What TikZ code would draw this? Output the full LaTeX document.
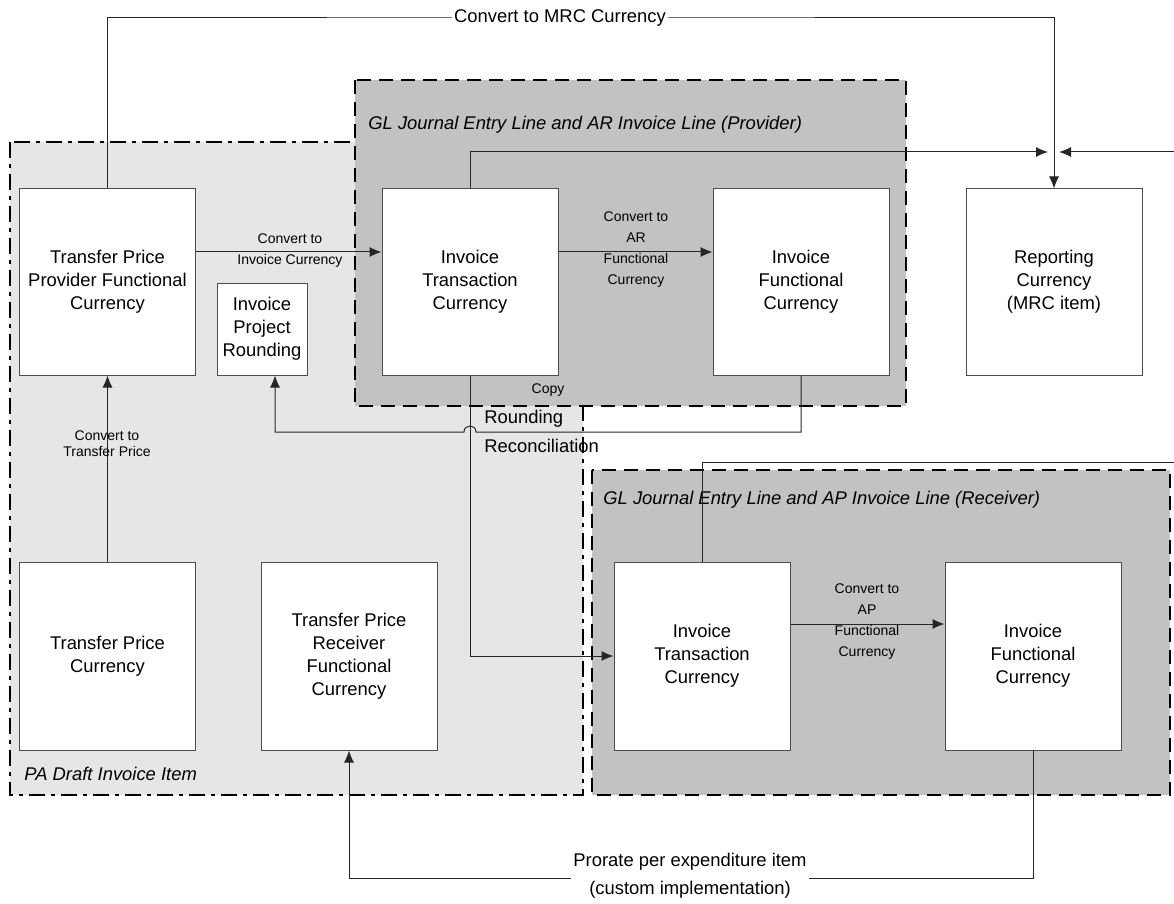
\documentclass[tikz,border=0pt]{standalone}
\usepackage{fontspec}
\setmainfont{Liberation Sans}
\usetikzlibrary{arrows.meta}
\definecolor{pagray}{RGB}{230,230,230}
\definecolor{glgray}{RGB}{194,194,194}

\begin{document}
\begin{tikzpicture}[x=0.5pt, y=-0.5pt,
    box/.style ={rectangle, draw=black!70, fill=white, line width=0.5pt, inner sep=0pt, align=center,
      minimum width=88pt, minimum height=93pt, font=\fontsize{9.2}{11.5}\selectfont},
    smalltext/.style ={inner sep=1pt, align=center, font=\fontsize{7}{10.5}\selectfont},
    bigtext/.style ={inner sep=1pt, align=center, font=\fontsize{9.2}{14}\selectfont},
    areatitle/.style ={anchor=west, inner sep=0pt, font=\fontsize{9.2}{11}\selectfont\itshape},
    connector/.style ={draw=black!85, line width=0.5pt},
    arrow/.style ={connector, -{Latex[length=6pt,width=5pt]}}]
   \useasboundingbox (0,0) rectangle (1174,904);

   \draw[fill=pagray, line width=1pt, dash pattern=on 8pt off 3pt on 2pt off 3pt] (10,142) rectangle (583,795);
   \draw[fill=glgray, line width=1pt, dash pattern=on 7pt off 4pt] (355,80) rectangle (906,406);
   \draw[fill=glgray, line width=1pt, dash pattern=on 7pt off 4pt] (592,470) rectangle (1170,795);

   \node[areatitle] (PA)  at (24,774)  {PA Draft Invoice Item};
   \node[areatitle] (GP)  at (368,125)  {GL Journal Entry Line and AR Invoice Line (Provider)};
   \node[areatitle] (GR)  at (603,500)  {GL Journal Entry Line and AP Invoice Line (Receiver)};

   \node[box] (A)  at (107.5,282)  {Transfer Price\\Provider Functional\\Currency};
   \node[box, minimum width=45pt, minimum height=46pt] (B)  at (262,329)  {Invoice\\Project\\Rounding};
   \node[box] (C)  at (470,282)  {Invoice\\Transaction\\Currency};
   \node[box] (D)  at (801,282)  {Invoice\\Functional\\Currency};
   \node[box] (E)  at (1054,282)  {Reporting\\Currency\\(MRC item)};
   \node[box, minimum height=94pt] (F)  at (107.5,656)  {Transfer Price\\Currency};
   \node[box, minimum height=94pt] (G)  at (349,656)  {Transfer Price\\Receiver\\Functional\\Currency};
   \node[box, minimum height=94pt] (H)  at (702,656)  {Invoice\\Transaction\\Currency};
   \node[box, minimum height=94pt] (I)  at (1033,656)  {Invoice\\Functional\\Currency};

   \coordinate (M)  at (560,18);
   \coordinate (R1)  at (1048,152);
   \coordinate (R2)  at (1174,152);
   \coordinate (R3)  at (1059,152);
   \coordinate (R4)  at (1174,462);
   \coordinate (K1)  at (801,432);
   \coordinate (K2)  at (476,432);
   \coordinate (K3)  at (464,432);
   \coordinate (K4)  at (275,432);
   \coordinate (P1)  at (1033,878);

   \draw[arrow] (A.north) |- (M) -| (E.north);
   \draw[arrow] (C.north) |- (R1);
   \draw[arrow] (R2) -- (R3);
   \draw[connector] (H.north) |- (R4);
   \draw[arrow] ([yshift=15pt]A.east) -- ([yshift=15pt]C.west);
   \draw[arrow] ([yshift=15pt]C.east) -- ([yshift=15pt]D.west);
   \draw[arrow] ([yshift=16pt]H.east) -- ([yshift=16pt]I.west);
   \draw[arrow] (F) -- (A);
   \draw[arrow] (C.south) |- (H.west);
   \draw[arrow] (D.south) -- (K1) -- (K2) .. controls (476,424) and (464,424) .. (K3) -- (K4) -- (K4 |- B.south);
   \draw[arrow] (I.south) -- (P1) -| (G.south);

   \node[bigtext, fill=white] (MT)  at (M)  {Convert to MRC Currency};
   \node[smalltext] (L1)  at (290,251)  {Convert to\\Invoice Currency};
   \node[smalltext] (L2)  at (636,250)  {Convert to\\AR\\Functional\\Currency};
   \node[smalltext] (L3)  at (867,622)  {Convert to\\AP\\Functional\\Currency};
   \node[smalltext, font=\fontsize{7}{8}\selectfont] (L4)  at (107,444)  {Convert to\\Transfer Price};
   \node[smalltext] (CP)  at (548,390)  {Copy};
   \node[bigtext, anchor=west] (RD)  at (482,419)  {Rounding};
   \node[bigtext, anchor=west] (RC)  at (482,446)  {Reconciliation};
   \node[bigtext, fill=white] (PR)  at (690,876)  {Prorate per expenditure item\\(custom implementation)};
 \end{tikzpicture}
\end{document}
